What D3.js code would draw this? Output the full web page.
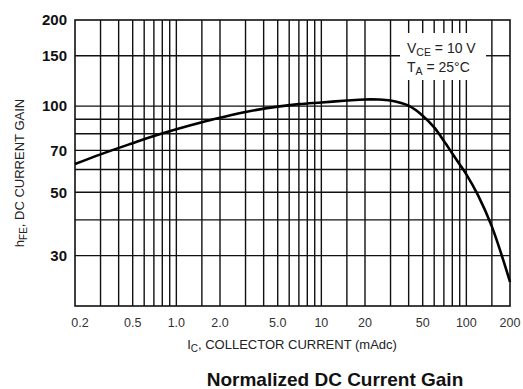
<!DOCTYPE html>
<html>
<head>
<meta charset="utf-8">
<script src="https://cdnjs.cloudflare.com/ajax/libs/d3/7.8.5/d3.min.js"></script>
<style>
  html, body { margin: 0; padding: 0; background: #fff; }
  svg { display: block; font-family: "Liberation Sans", Arial, sans-serif; }
</style>
</head>
<body>
<svg id="chart" width="523" height="389"></svg>
<script>
// Collector current (mA) and DC current gain hFE
const currentMA = [0.2, 0.3, 0.5, 0.7, 1.0, 1.5, 2.0, 3.0, 5.0, 7.0, 10, 15, 20, 25, 30, 35, 40, 50, 60, 70, 80, 90, 100, 120, 150, 200];
const gainHFE   = [62.7, 67.8, 74.2, 78.6, 83.0, 87.8, 91.0, 95.4, 99.6, 101.6, 103.0, 104.6, 105.5, 105.4, 104.6, 102.8, 100.3, 92.6, 84.2, 75.5, 68.3, 62.5, 57.7, 48.9, 37.9, 24.3];

// Grid lines and tick labels
const xGrid = [0.3, 0.4, 0.5, 0.6, 0.7, 0.8, 0.9, 1.0, 1.5, 2, 3, 4, 5, 6, 7, 8, 9, 10, 15, 20, 30, 40, 50, 60, 70, 80, 90, 100, 150];
const xTicks = [0.2, 0.5, 1.0, 2.0, 5.0, 10, 20, 50, 100, 200];
const xTickText = ["0.2", "0.5", "1.0", "2.0", "5.0", "10", "20", "50", "100", "200"];
const yGrid = [30, 40, 50, 60, 70, 80, 90, 100, 150];
const yTicks = [30, 50, 70, 100, 150, 200];

const svg = d3.select("#chart");
const plotL = 75, plotR = 510, plotT = 20, plotB = 306;

const x = d3.scaleLog().domain([0.2, 200]).range([plotL, plotR]);
const y = d3.scaleLog().domain([20, 200]).range([plotB, plotT]);

// legend box area (grid lines are interrupted there)
const box = { x0: 400, x1: 486, y0: 33, y1: 80 };

const grid = svg.append("g").attr("stroke", "#111").attr("stroke-width", 1.4);

xGrid.forEach(v => {
  const px = x(v);
  if (px > box.x0 && px < box.x1) {
    grid.append("line").attr("x1", px).attr("x2", px).attr("y1", plotT).attr("y2", box.y0);
    grid.append("line").attr("x1", px).attr("x2", px).attr("y1", box.y1).attr("y2", plotB);
  } else {
    grid.append("line").attr("x1", px).attr("x2", px).attr("y1", plotT).attr("y2", plotB);
  }
});

yGrid.forEach(v => {
  const py = y(v);
  if (py > box.y0 && py < box.y1) {
    grid.append("line").attr("x1", plotL).attr("x2", box.x0).attr("y1", py).attr("y2", py);
    grid.append("line").attr("x1", box.x1).attr("x2", plotR).attr("y1", py).attr("y2", py);
  } else {
    grid.append("line").attr("x1", plotL).attr("x2", plotR).attr("y1", py).attr("y2", py);
  }
});

// frame
svg.append("rect")
  .attr("x", plotL).attr("y", plotT)
  .attr("width", plotR - plotL).attr("height", plotB - plotT)
  .attr("fill", "none").attr("stroke", "#111").attr("stroke-width", 1.6);

// gain curve
const pts = currentMA.map((c, i) => [x(c), y(gainHFE[i])]);
svg.append("path")
  .attr("d", d3.line().curve(d3.curveCatmullRom.alpha(0.5))(pts))
  .attr("fill", "none").attr("stroke", "#000").attr("stroke-width", 2.6)
  .attr("stroke-linejoin", "round");

// y tick labels
svg.append("g").selectAll("text").data(yTicks).join("text")
  .attr("x", 67).attr("y", d => y(d))
  .attr("dy", "0.36em")
  .attr("text-anchor", "end")
  .attr("font-size", 15).attr("font-weight", "bold").attr("fill", "#111")
  .text(d => d);

// x tick labels
svg.append("g").selectAll("text").data(xTicks).join("text")
  .attr("x", (d, i) => x(d) + (i === 0 ? 5 : 0)).attr("y", 322)
  .attr("dy", "0.36em")
  .attr("text-anchor", "middle")
  .attr("font-size", 12.5).attr("fill", "#333")
  .text((d, i) => xTickText[i]);

// x axis title
const xt = svg.append("text")
  .attr("x", 292).attr("y", 349)
  .attr("text-anchor", "middle")
  .attr("font-size", 13).attr("fill", "#222");
xt.append("tspan").text("I");
xt.append("tspan").attr("font-size", 10).attr("dy", 3).text("C");
xt.append("tspan").attr("dy", -3).text(", COLLECTOR CURRENT (mAdc)");

// y axis title
const yt = svg.append("text")
  .attr("transform", "translate(24,173) rotate(-90)")
  .attr("text-anchor", "middle")
  .attr("font-size", 13).attr("fill", "#222");
yt.append("tspan").text("h");
yt.append("tspan").attr("font-size", 10).attr("dy", 3).text("FE");
yt.append("tspan").attr("dy", -3).text(",  DC CURRENT GAIN");

// legend text
const l1 = svg.append("text").attr("x", 407).attr("y", 53)
  .attr("font-size", 14).attr("fill", "#222");
l1.append("tspan").text("V");
l1.append("tspan").attr("font-size", 10.5).attr("dy", 3).text("CE");
l1.append("tspan").attr("dy", -3).text(" = 10 V");

const l2 = svg.append("text").attr("x", 407).attr("y", 72)
  .attr("font-size", 14).attr("fill", "#222");
l2.append("tspan").text("T");
l2.append("tspan").attr("font-size", 10.5).attr("dy", 3).text("A");
l2.append("tspan").attr("dy", -3).text(" = 25\u00B0C");

// chart title
svg.append("text")
  .attr("x", 335).attr("y", 386)
  .attr("text-anchor", "middle")
  .attr("font-size", 19).attr("font-weight", "bold").attr("fill", "#111")
  .text("Normalized DC Current Gain");
</script>
</body>
</html>
